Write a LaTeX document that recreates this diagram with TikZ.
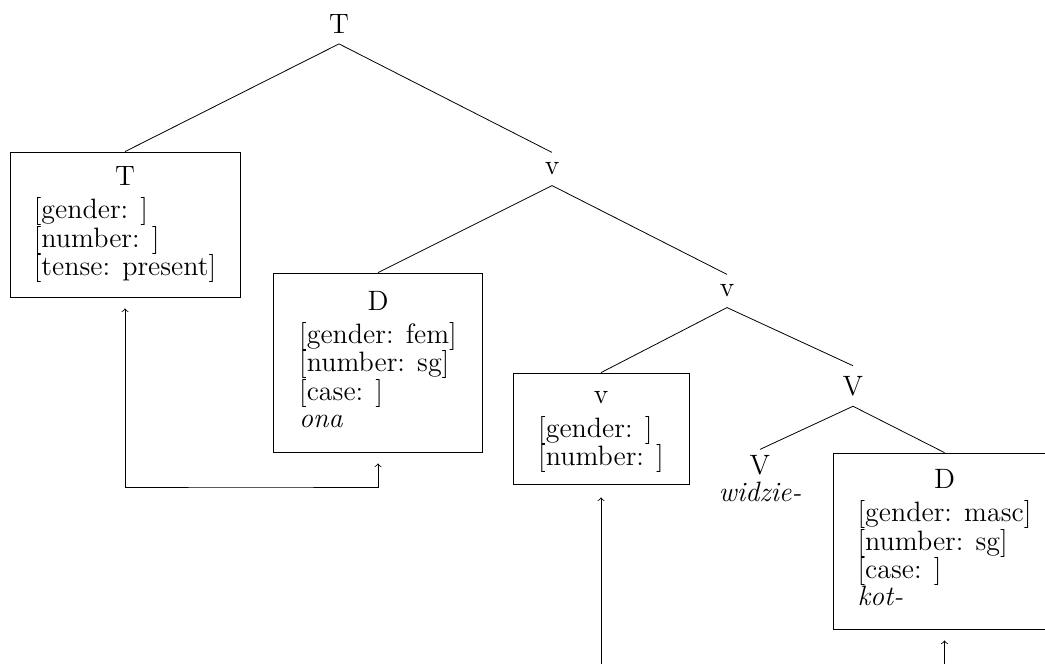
\documentclass[tikz,border=0pt]{standalone}
\newcommand{\featlist}[1]{%
  \setbox\strutbox\hbox{\vrule height 9.8pt depth 3.7pt width 0pt}%
  \begin{tabular}{@{}l@{}}#1\end{tabular}}
\newcommand{\hd}[1]{\multicolumn{1}{@{}c@{}}{#1}\\[2.5pt]}
\tikzset{
  feat/.style={draw, inner sep=0pt},
  cat/.style={inner sep=5pt},
}
\begin{document}
\begin{tikzpicture}[x=0.5pt, y=-0.5pt, font={\fontsize{14}{13.5}\selectfont}]
\useasboundingbox (0,0) rectangle (1045,664);
\clip (0,0) rectangle (1045,664);
\node[cat] (T) at (339,24) {T};
\node[feat, minimum width=115pt, minimum height=72.5pt] (Tbox) at (125,224.5)
  {\featlist{\hd{T}{[gender: ]}\\{[number: ]}\\{[tense: present]}}};
\node[cat] (v1) at (552,169) {v};
\node[feat, minimum width=104.5pt, minimum height=89.5pt] (Dbox) at (378,362.5)
  {\featlist{\hd{D}{[gender: fem]}\\{[number: sg]}\\{[case: ]}\\\textit{ona}}};
\node[cat] (v2) at (727,291) {v};
\node[feat, minimum width=88pt, minimum height=55.5pt] (vbox) at (601,428.5)
  {\featlist{\hd{v}{[gender: ]}\\{[number: ]}}};
\node[cat] (V1) at (853,386) {V};
\node[cat, align=center, inner sep=3pt] (V2) at (760,479) {V\\\textit{widzie-}};
\node[feat, minimum width=111.5pt, minimum height=88pt] (D2box) at (944.5,541)
  {\featlist{\hd{D}{[gender: masc]}\\{[number: sg]}\\{[case: ]}\\\textit{kot-}}};
\draw (T.south) -- (Tbox.north);
\draw (T.south) -- (v1.north);
\draw (v1.south) -- (Dbox.north);
\draw (v1.south) -- (v2.north);
\draw (v2.south) -- (vbox.north);
\draw (v2.south) -- (V1.north);
\draw (V1.south) -- (V2.north);
\draw (V1.south) -- (D2box.north);
\coordinate (agr) at (250,487);
\draw[<->] ([yshift=-5.5pt]Tbox.south) |- (agr) -| ([yshift=-5.5pt]Dbox.south);
\coordinate (vlow) at (601,670);
\draw[->] (vlow) -- ([yshift=-6.5pt]vbox.south);
\coordinate (dlow) at (944.5,670);
\draw[->] (dlow) -- ([yshift=-5.5pt]D2box.south);
\end{tikzpicture}
\end{document}
